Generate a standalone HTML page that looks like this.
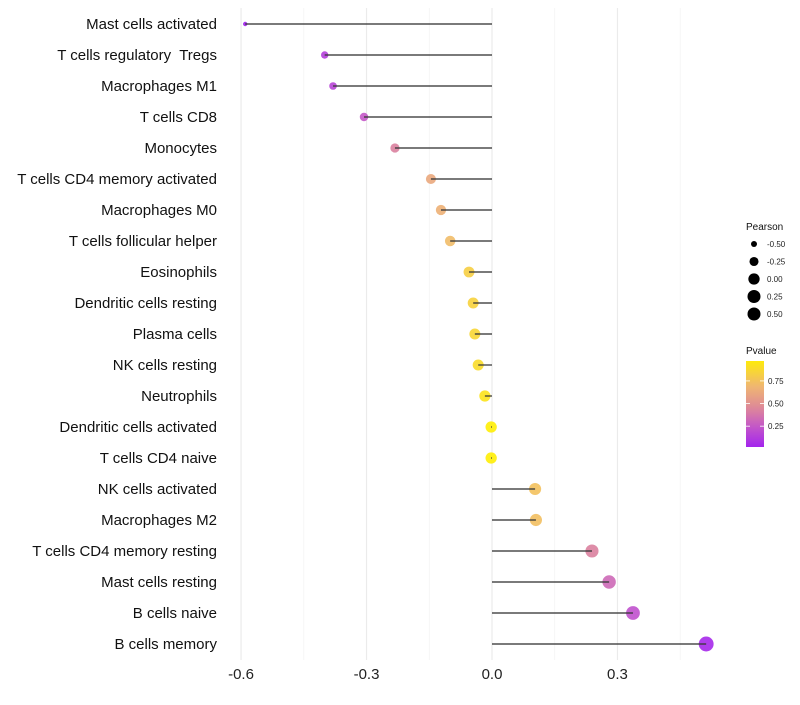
<!DOCTYPE html>
<html><head><meta charset="utf-8"><style>
body{margin:0;background:#fff;font-family:"Liberation Sans",sans-serif}
</style></head><body>
<svg id="chart" width="800" height="700" xmlns="http://www.w3.org/2000/svg" font-family="Liberation Sans, sans-serif"></svg>
<script>
const categories=["Mast cells activated","T cells regulatory  Tregs","Macrophages M1","T cells CD8","Monocytes","T cells CD4 memory activated","Macrophages M0","T cells follicular helper","Eosinophils","Dendritic cells resting","Plasma cells","NK cells resting","Neutrophils","Dendritic cells activated","T cells CD4 naive","NK cells activated","Macrophages M2","T cells CD4 memory resting","Mast cells resting","B cells naive","B cells memory"];
const pearson=[-0.59,-0.40,-0.38,-0.306,-0.232,-0.146,-0.122,-0.10,-0.055,-0.045,-0.041,-0.033,-0.017,-0.002,-0.002,0.103,0.105,0.239,0.28,0.337,0.512];
const pvalue=[0.01,0.14,0.16,0.25,0.42,0.62,0.66,0.72,0.82,0.84,0.86,0.89,0.93,0.99,0.99,0.75,0.74,0.42,0.32,0.22,0.04];
const xTicks=[-0.6,-0.3,0.0,0.3];
const xTickLabels=["-0.6","-0.3","0.0","0.3"];
const minorTicks=[-0.45,-0.15,0.15,0.45];
const sizeLegend=[-0.5,-0.25,0,0.25,0.5];
const colorTicks=[0.25,0.5,0.75];

const svg=document.getElementById('chart');
const NS="http://www.w3.org/2000/svg";
function mk(t,a,p){const e=document.createElementNS(NS,t);for(const k in a)e.setAttribute(k,a[k]);(p||svg).appendChild(e);return e;}
const x=v=>492+v*418.3;
const y=i=>24+i*31;
const r=v=>Math.sqrt(Math.max(32+46*v,2.9));
const stops=[[0.0,[160,32,240]],[0.25,[196,88,200]],[0.45,[222,136,152]],[0.7,[240,184,112]],[1.0,[255,240,0]]];
function col(p){for(let i=1;i<stops.length;i++){if(p<=stops[i][0]){const a=stops[i-1],b=stops[i],t=(p-a[0])/(b[0]-a[0]);return 'rgb('+a[1].map((c,j)=>Math.round(c+(b[1][j]-c)*t)).join(',')+')';}}return 'rgb(255,240,0)';}

minorTicks.forEach(v=>{const l=mk('line',{x1:x(v),x2:x(v),y1:8,y2:660,stroke:'#f3f3f3','stroke-width':0.8});

});
xTicks.forEach((v,i)=>{const l=mk('line',{x1:x(v),x2:x(v),y1:8,y2:660,stroke:'#ebebeb','stroke-width':1.2});


const t=mk('text',{x:x(v),y:679,'text-anchor':'middle','font-size':15,fill:'#222'});t.textContent=xTickLabels[i];

});
categories.forEach((c,i)=>{
const t=mk('text',{x:217,y:y(i)+5,'text-anchor':'end','font-size':15,fill:'#111','xml:space':'preserve'});t.textContent=c;
t.setAttribute('style','white-space:pre');


const d=mk('circle',{cx:x(pearson[i]),cy:y(i),r:r(pearson[i]),fill:col(pvalue[i]),'fill-opacity':0.9});


const l=mk('line',{x1:x(0),x2:x(pearson[i]),y1:y(i),y2:y(i),stroke:'#3a3a3a','stroke-width':1.4,'stroke-opacity':0.9});


});
const lt=mk('text',{x:746,y:230,'font-size':10,fill:'#111'});lt.textContent='Pearson';


sizeLegend.forEach((v,i)=>{const cy=244+i*17.5;
const c=mk('circle',{cx:754,cy:cy,r:Math.min(Math.max(r(v),2.7),6.5),fill:'#000'});


const t=mk('text',{x:767,y:cy+3,'font-size':8,fill:'#222'});t.textContent=v.toFixed(2);

});
const pt=mk('text',{x:746,y:354,'font-size':10,fill:'#111'});pt.textContent='Pvalue';


const defs=mk('defs',{});const g=mk('linearGradient',{id:'pg',x1:0,y1:1,x2:0,y2:0},defs);
[0,0.1,0.2,0.3,0.4,0.5,0.6,0.7,0.8,0.9,1].forEach(o=>mk('stop',{offset:o,'stop-color':col(0.02+o*0.95)},g));
const cb=mk('rect',{x:746,y:361,width:18,height:86,fill:'url(#pg)'});


colorTicks.forEach(v=>{const cy=447-(v-0.02)/0.95*86;
mk('line',{x1:746,x2:750,y1:cy,y2:cy,stroke:'#fff','stroke-width':0.8});mk('line',{x1:760,x2:764,y1:cy,y2:cy,stroke:'#fff','stroke-width':0.8});
const t=mk('text',{x:768,y:cy+3,'font-size':8,fill:'#222'});t.textContent=v.toFixed(2);

});
</script>
</body></html>
